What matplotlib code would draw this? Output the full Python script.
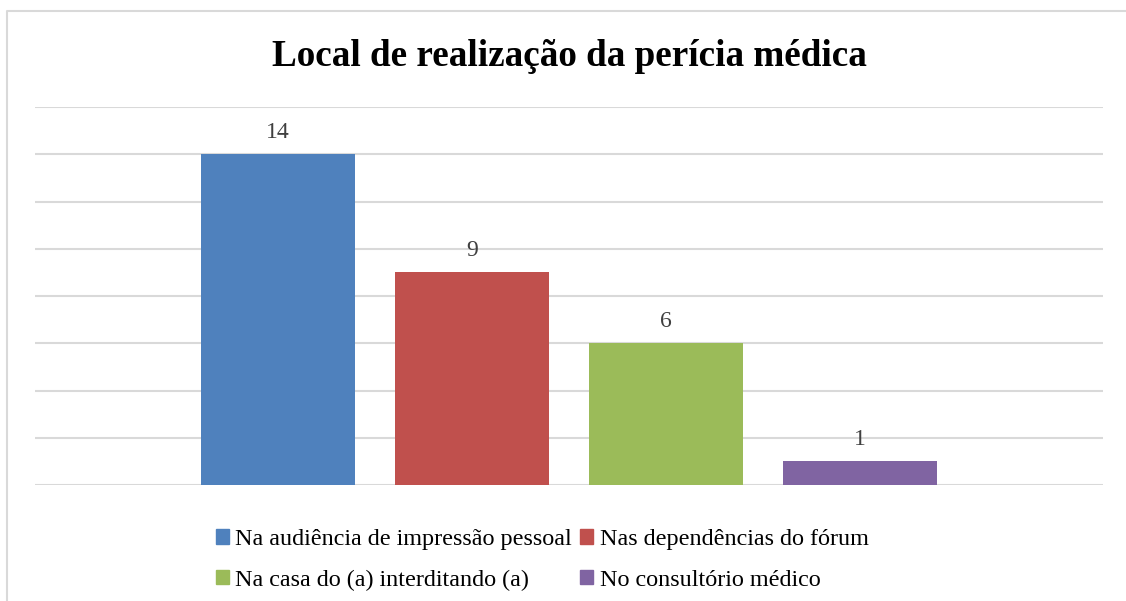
import numpy as np
import matplotlib
matplotlib.use("Agg")
import matplotlib.pyplot as plt
from matplotlib.patches import Rectangle
from matplotlib.lines import Line2D

# Local de realização da perícia médica
locais = ["Na audiência de impressão pessoal", "Nas dependências do fórum",
          "Na casa do (a) interditando (a)", "No consultório médico"]
quantidades = [14, 9, 6, 1]
cores = ["#4F81BD", "#C0504D", "#9BBB59", "#8064A2"]

plt.rcParams['font.family'] = ['Liberation Serif', 'DejaVu Serif']

W, H = 1126, 601
fig = plt.figure(figsize=(W / 100, H / 100), dpi=100)

# chart frame (cut off at right and bottom like the source)
fx, fy = 6.5 / W, 1 - 11 / H
fig.lines.append(Line2D([fx, fx, 1.0], [0.0, fy, fy], transform=fig.transFigure,
                        color="#d9d9d9", linewidth=1.5))

ax = fig.add_axes([35 / W, 1 - 485 / H, (1103 - 35) / W, (485 - 107) / H])

x = np.arange(len(locais))
bars = ax.bar(x, quantidades, width=0.79, color=cores, zorder=3)
ax.bar_label(bars, labels=[str(v) for v in quantidades], padding=8,
             fontsize=17, color="#404040")

ax.set_ylim(0, 16)
ax.set_yticks(np.arange(0, 17, 2))
ax.set_xlim(1.5 - 2.753, 1.5 + 2.753)
ax.grid(axis="y", color="#d9d9d9", linewidth=1.5, zorder=0)
ax.tick_params(left=False, bottom=False, labelleft=False, labelbottom=False)
for s in ax.spines.values():
    s.set_visible(False)

fig.text(569 / W, 1 - 57 / H, "Local de realização da perícia médica",
         ha="center", va="center", fontsize=26.7, fontweight="bold")

# legend reads row by row: reorder for matplotlib's column-wise fill
ordem = [0, 2, 1, 3]
handles = [Rectangle((0, 0), 1, 1, color=cores[i]) for i in ordem]
fig.legend(handles, [locais[i] for i in ordem], ncol=2, loc="center",
           bbox_to_anchor=(542 / W, 1 - 560 / H), frameon=False,
           fontsize=17.4, handlelength=0.55, handleheight=0.55,
           handletextpad=0.25, columnspacing=0.35, labelspacing=0.8)

fig.savefig("out.png", dpi=100, facecolor="white")
